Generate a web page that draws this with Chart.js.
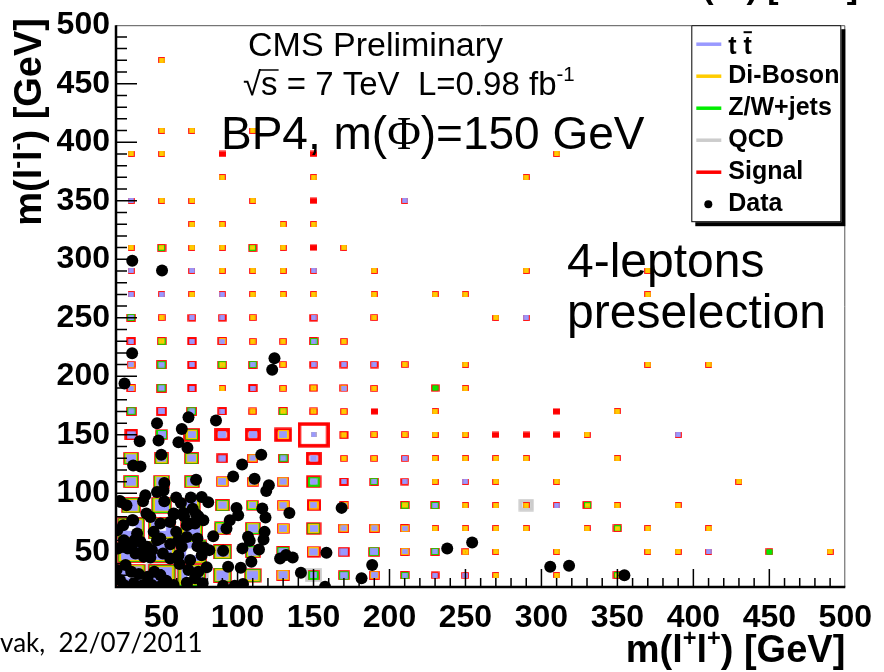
<!DOCTYPE html>
<html>
<head>
<meta charset="utf-8">
<script src="https://cdn.jsdelivr.net/npm/chart.js@4.4.1/dist/chart.umd.min.js"></script>
<style>
  html, body { margin: 0; padding: 0; background: #fff; }
  #wrap { position: relative; width: 884px; height: 672px; overflow: hidden; }
</style>
</head>
<body>
<div id="wrap"><canvas id="chart" width="884" height="672"></canvas></div>
<script>
// bins are 20 GeV wide on both axes; box size values are % of the bin
var binWidth = 20;
var xTicks = [50, 100, 150, 200, 250, 300, 350, 400, 450, 500];
var yTicks = [50, 100, 150, 200, 250, 300, 350, 400, 450, 500];

// [m(l+l+), m(l-l-), box size]
var ttbar = [
  [30,30,60],[50,30,58],[70,30,60],[90,30,30],[110,30,26],[130,30,20],[150,30,12],[170,30,15],[190,30,12],[210,30,8],[230,30,8],[250,30,8],
  [30,50,58],[50,50,58],[70,50,68],[90,50,30],[110,50,22],[130,50,20],[150,50,18],[170,50,18],[190,50,16],[210,50,8],[230,50,8],[410,50,8],
  [30,70,58],[50,70,58],[70,70,42],[90,70,24],[110,70,22],[130,70,16],[150,70,16],[170,70,10],[190,70,10],[210,70,8],
  [30,90,33],[50,90,36],[70,90,26],[90,90,18],[110,90,12],[130,90,14],[150,90,12],[170,90,8],[230,90,8],[310,90,8],
  [30,110,22],[50,110,24],[70,110,22],[90,110,16],[110,110,14],[130,110,14],[150,110,14],[170,110,8],[190,110,8],[210,110,8],[250,110,8],
  [30,130,22],[50,130,18],[70,130,18],[90,130,14],[110,130,10],[130,130,10],[150,130,14],[210,130,8],
  [30,150,18],[50,150,16],[70,150,16],[90,150,16],[110,150,16],[130,150,16],[150,150,8],[390,150,8],
  [30,170,10],[50,170,12],[70,170,10],[90,170,8],
  [30,190,8],[50,190,10],[70,190,8],[110,190,8],[170,190,8],
  [30,210,8],[50,210,10],[70,210,8],[110,210,8],[150,210,8],[170,210,8],[190,210,8],
  [30,230,8],[70,230,8],[90,230,8],[150,230,8],
  [30,250,8],[70,250,8],[90,250,8],[150,250,8],[290,250,8],
  [30,270,8],[50,270,8],[90,270,8],
  [30,290,8],[70,290,8],[150,290,8],
  [30,350,8],[210,350,8]
];
var diboson = [
  [30,30,70],[50,30,67],[70,30,70],[90,30,38],[110,30,34],[130,30,28],[190,30,18],[270,30,8],[310,30,8],[350,30,6],
  [30,50,67],[50,50,67],[70,50,77],[90,50,38],[110,50,28],[150,50,25],[210,50,15],[250,50,10],[270,50,8],[310,50,8],[370,50,8],[390,50,8],[490,50,8],
  [30,70,67],[50,70,67],[70,70,51],[90,70,32],[110,70,28],[130,70,25],[150,70,25],[170,70,18],[190,70,18],[210,70,15],[230,70,8],[250,70,8],[270,70,8],[290,70,8],[330,70,8],[350,70,6],[370,70,8],[410,70,8],
  [30,90,41],[50,90,44],[70,90,34],[90,90,25],[110,90,19],[130,90,25],[150,90,22],[170,90,15],[210,90,9],[250,90,8],[270,90,8],[290,90,8],[330,90,6],[350,90,8],[390,90,8],
  [30,110,28],[50,110,32],[70,110,28],[90,110,25],[110,110,22],[130,110,22],[230,110,8],[270,110,8],[310,110,8],[430,110,8],
  [30,130,28],[50,130,25],[70,130,25],[110,130,18],[170,130,8],[190,130,8],[230,130,8],[250,130,8],[270,130,8],[290,130,8],[350,130,8],
  [70,150,25],[130,150,25],[150,150,8],[170,150,10],[190,150,8],[210,150,8],[230,150,8],[250,150,8],[330,150,8],
  [110,170,10],[130,170,10],[150,170,10],[170,170,8],[230,170,8],[350,170,8],
  [30,190,12],[90,190,8],[130,190,8],[150,190,10],[170,190,10],[190,190,8],[250,190,8],
  [30,210,10],[90,210,10],[130,210,8],[210,210,8],[250,210,8],[370,210,8],[410,210,8],
  [50,230,10],[90,230,12],[110,230,8],[130,230,8],[170,230,8],
  [50,250,8],[110,250,8],[190,250,8],[270,250,8],
  [70,270,8],[110,270,8],[130,270,8],[150,270,8],[190,270,8],[230,270,8],[250,270,8],[370,270,8],
  [90,290,8],[110,290,8],[130,290,8],[190,290,8],[290,290,8],[370,290,8],
  [30,310,8],[50,310,6],[70,310,8],[90,310,8],[110,310,6],[130,310,8],[170,310,8],
  [70,330,8],[90,330,8],[130,330,8],[150,330,8],
  [50,350,8],[70,350,8],[110,350,8],
  [90,370,8],[150,370,8],[290,370,8],
  [30,390,8],[50,390,8],[310,390,8],
  [50,410,8],[70,410,8],[110,410,8],
  [50,470,8]
];
var zwjets = [
  [30,30,76],[50,30,73],[70,30,76],[90,30,44],[110,30,40],[150,30,24],[170,30,22],[210,30,15],[350,30,12],
  [30,50,73],[50,50,73],[70,50,83],[90,50,44],[110,50,34],[130,50,28],[190,50,22],[230,50,15],[450,50,10],
  [30,70,73],[50,70,73],[70,70,57],[90,70,38],[110,70,34],[150,70,30],[350,70,12],
  [30,90,47],[50,90,50],[70,90,40],[90,90,31],[110,90,25],[210,90,15],[230,90,15],[330,90,12],
  [30,110,34],[50,110,38],[70,110,34],[150,110,28],[190,110,15],
  [30,130,34],[50,130,31],[70,130,31],[130,130,18],
  [50,150,25],[70,150,30],
  [30,170,18],[70,170,18],[130,170,15],
  [50,190,18],[230,190,10],
  [50,210,18],[90,210,15],[110,210,15],
  [50,230,15],[150,230,15],
  [30,250,15],
  [50,310,12],[110,310,12]
];
var qcd = [
  [50,30,90],[70,30,100],[150,30,45],[290,90,40]
];
var signal = [
  [30,30,83],[50,30,80],[70,30,83],[90,30,51],[110,30,47],[130,30,34],[150,30,28],[170,30,28],[190,30,25],[210,30,21],[230,30,18],[250,30,15],[270,30,12],[310,30,12],[350,30,20],
  [30,50,80],[50,50,80],[70,50,90],[90,50,51],[110,50,41],[130,50,34],[150,50,35],[170,50,28],[190,50,28],[210,50,21],[230,50,21],[250,50,15],[270,50,12],[310,50,12],[370,50,12],[390,50,12],[410,50,12],[450,50,15],[490,50,12],
  [30,70,80],[50,70,80],[70,70,64],[90,70,44],[110,70,41],[130,70,31],[150,70,40],[170,70,25],[190,70,25],[210,70,21],[230,70,12],[250,70,12],[270,70,12],[290,70,12],[330,70,12],[350,70,20],[370,70,12],[410,70,12],
  [30,90,54],[50,90,57],[70,90,47],[90,90,38],[110,90,31],[130,90,31],[150,90,36],[170,90,21],[210,90,21],[230,90,21],[250,90,12],[270,90,12],[290,90,12],[310,90,12],[330,90,20],[350,90,12],[390,90,12],
  [30,110,41],[50,110,44],[70,110,41],[90,110,31],[110,110,28],[130,110,28],[150,110,40],[170,110,21],[190,110,21],[210,110,18],[230,110,12],[250,110,12],[270,110,12],[310,110,12],[430,110,12],
  [30,130,41],[50,130,38],[70,130,38],[90,130,28],[110,130,25],[130,130,25],[150,130,42],[170,130,15],[190,130,15],[210,130,15],[230,130,12],[250,130,12],[270,130,12],[290,130,12],[350,130,12],
  [30,150,34],[50,150,31],[70,150,45],[90,150,42],[110,150,42],[130,150,48],[150,150,95],[170,150,20],[190,150,15],[210,150,15],[230,150,12],[250,150,12],[270,150,13],[290,150,13],[310,150,13],[330,150,12],[390,150,12],
  [30,170,25],[50,170,25],[70,170,25],[90,170,21],[110,170,18],[130,170,21],[150,170,18],[170,170,15],[190,170,13],[230,170,12],[310,170,13],[350,170,12],
  [30,190,21],[50,190,25],[70,190,21],[90,190,12],[110,190,21],[130,190,15],[150,190,18],[170,190,18],[190,190,15],[230,190,18],[250,190,12],
  [30,210,18],[50,210,25],[70,210,21],[90,210,21],[110,210,21],[130,210,15],[150,210,18],[170,210,18],[190,210,18],[210,210,15],[250,210,12],[370,210,12],[410,210,12],
  [30,230,21],[50,230,21],[70,230,21],[90,230,21],[110,230,15],[130,230,15],[150,230,21],[170,230,15],
  [30,250,21],[50,250,15],[70,250,18],[90,250,18],[110,250,15],[150,250,18],[190,250,15],[270,250,12],[290,250,12],
  [30,270,12],[50,270,12],[70,270,12],[90,270,12],[110,270,12],[130,270,12],[150,270,12],[190,270,12],[230,270,12],[250,270,12],[370,270,12],
  [30,290,12],[70,290,12],[90,290,12],[110,290,12],[130,290,12],[150,290,12],[190,290,12],[290,290,12],[370,290,12],
  [30,310,12],[50,310,20],[70,310,12],[90,310,12],[110,310,20],[130,310,12],[150,310,13],[170,310,12],
  [70,330,12],[90,330,12],[130,330,12],[150,330,12],
  [30,350,12],[50,350,12],[70,350,12],[110,350,12],[150,350,13],[210,350,12],
  [90,370,12],[150,370,12],[290,370,12],
  [30,390,12],[50,390,12],[90,390,13],[150,390,13],[310,390,12],
  [50,410,12],[70,410,12],[110,410,12],
  [50,470,12]
];
// observed events [m(l+l+), m(l-l-)]
var data = [
  [30.6,219.8],[25.6,193.9],[124.3,215.5],[122.8,205.6],[47,159.9],[67.7,165],[85.8,162.2],[63.3,155],[35.6,144.6],[48,145.1],
  [61.1,143.7],[67,138.9],[49.8,133],[31.3,123.9],[36.1,123],[115.6,133],[103,124.7],[97.1,114.5],[111.2,112.5],[120.6,106.9],
  [118.9,102],[72.7,111.7],[51.8,108.8],[47,101.2],[39.3,98.3],[37.8,93.2],[22.6,93.5],[51.8,93.2],[59.6,96.4],[62.7,91.8],
  [69.2,96.4],[76.4,96.9],[80.7,92.4],[99.3,87.6],[100.4,81.3],[116.3,87],[134.1,83.3],[118.4,79.3],[168.5,87.6],[40,82.7],
  [30.6,77.1],[57.9,82.7],[64.8,80.5],[72.7,82.2],[94.9,77.1],[92.7,70],[84,63.4],[106.9,62.9],[108,59.5],[117.1,60.6],
  [114.1,52.1],[103.2,53],[109.1,41.6],[90.5,51],[128,44.4],[131.9,47.3],[136.3,45.3],[158.5,49.3],[188.6,38.8],[181.6,27.4],
  [157.6,20.3],[141.7,32.2],[93.8,37.3],[102.1,36.5],[90.5,21],[98.2,21],[103.6,22.6],[79.7,36.8],[77,23.2],[117.8,67.1],
  [51.3,102.5],[23,92.6],[26.9,89.8],[49.2,74.2],[55.7,75.6],[58.5,82.1],[68.8,74.2],[72,74.2],[66.6,72.8],[31.3,77],
  [33.9,65.7],[32.2,60],[44.8,67.1],[49.2,61.4],[55.7,56.6],[59.6,67.1],[61.1,60],[63.3,54.3],[66.6,62.8],[73.6,61.4],
  [73.6,54.9],[77.9,53.8],[81.4,51.5],[76.4,47.2],[21.3,52.9],[27.8,52.9],[32.8,48.6],[37.2,50.1],[38.3,45.8],[42.6,45.2],
  [50.9,48.6],[55.7,44.4],[61.1,47.2],[61.8,39.6],[68.8,43],[20.4,34.5],[26.3,38.7],[30,33.1],[35,31.1],[40.9,28.8],
  [45.2,33.1],[49.2,30.2],[53.1,25.4],[57.9,21.7],[50.2,21.7],[43.7,21.7],[37.8,21.7],[31.7,23.1],[25.2,21.7],[22.6,26],
  [66.6,23.7],[67.7,34.5],[74.2,33.1],[72,27.4],[47,60],[40.4,54.3],[43.7,51.5],[30.6,55.7],[36.1,58.6],[25.2,60],
  [20.8,68.5],[24.7,72.8],[74.2,80.4],[77.5,77],[42.6,79.9],[70.5,86.9],[64.4,83.3],
  [30.7,298.7],[50.3,290.4],[238,52.9],[254.4,58],[305.8,37.3],[318.2,38.1],[354.6,30]
];

var SANS = '"Liberation Sans", Arial, Helvetica, sans-serif';

// box drawn as a canvas point style, sized from the bin width in pixels
var boxCache = {};
function boxStyle(color, lw) {
  return function (ctx) {
    var raw = ctx.raw;
    if (!raw) return 'rect';
    var xs = ctx.chart.scales.x, ys = ctx.chart.scales.y;
    var bw = Math.abs(xs.getPixelForValue(binWidth) - xs.getPixelForValue(0));
    var bh = Math.abs(ys.getPixelForValue(binWidth) - ys.getPixelForValue(0));
    var w = raw[2] / 100 * bw + 3, h = raw[2] / 100 * bh + 3;
    var key = color + '|' + lw + '|' + w.toFixed(1) + '|' + h.toFixed(1);
    if (boxCache[key]) return boxCache[key];
    var cv = document.createElement('canvas');
    cv.width = Math.ceil(w); cv.height = Math.ceil(h);
    var g = cv.getContext('2d');
    var ox = (cv.width - w) / 2, oy = (cv.height - h) / 2;
    g.fillStyle = color; g.strokeStyle = color;
    if (w <= 2 * lw || h <= 2 * lw) {
      g.fillRect(ox, oy, w, h);
    } else {
      g.lineWidth = lw;
      g.strokeRect(ox + lw / 2, oy + lw / 2, w - lw, h - lw);
    }
    boxCache[key] = cv;
    return cv;
  };
}

function boxSet(label, arr, color, lw, order) {
  return {
    label: label, data: arr, order: order,
    backgroundColor: color, borderColor: color, borderWidth: 0,
    pointRadius: 5, pointHoverRadius: 5,
    pointStyle: boxStyle(color, lw)
  };
}

// text with superscripts: parts = [[text, isSup, family]]
function drawRich(c, parts, x, y, size, weight, align) {
  var widths = [], total = 0;
  parts.forEach(function (p) {
    var s = p[1] ? size * 0.62 : size;
    c.font = weight + ' ' + s + 'px ' + (p[2] || SANS);
    var w = c.measureText(p[0]).width;
    widths.push(w); total += w;
  });
  var sx = align === 'right' ? x - total : (align === 'center' ? x - total / 2 : x);
  var out = [];
  parts.forEach(function (p, i) {
    var s = p[1] ? size * 0.62 : size;
    c.font = weight + ' ' + s + 'px ' + (p[2] || SANS);
    c.fillText(p[0], sx, p[1] ? y - size * 0.42 : y);
    out.push([sx, widths[i]]);
    sx += widths[i];
  });
  return out;
}

var frameTicks = {
  id: 'frameTicks',
  afterDatasetsDraw: function (chart) {
    var c = chart.ctx, a = chart.chartArea, xs = chart.scales.x, ys = chart.scales.y;
    c.save();
    c.strokeStyle = '#000';
    c.lineWidth = 1.5;
    c.beginPath();
    for (var v = 30; v < 500; v += 10) {
      var major = v % 50 === 0;
      var px = xs.getPixelForValue(v);
      c.moveTo(px, a.bottom); c.lineTo(px, a.bottom - (major ? 18 : 9));
      var py = ys.getPixelForValue(v);
      c.moveTo(a.left, py); c.lineTo(a.left + (major ? 21 : 11), py);
    }
    c.stroke();
    c.lineWidth = 1; c.strokeStyle = '#555';
    c.beginPath();
    c.moveTo(a.left, a.top + 0.5); c.lineTo(a.right - 0.5, a.top + 0.5); c.lineTo(a.right - 0.5, a.bottom);
    c.stroke();
    c.lineWidth = 2.5; c.strokeStyle = '#000';
    c.beginPath();
    c.moveTo(a.left, a.top); c.lineTo(a.left, a.bottom); c.lineTo(a.right, a.bottom);
    c.stroke();
    c.restore();
  }
};

var annotations = {
  id: 'annotations',
  afterDraw: function (chart) {
    var c = chart.ctx, a = chart.chartArea;
    c.save();
    c.fillStyle = '#000';
    c.textBaseline = 'alphabetic';

    // titles inside the frame
    c.textAlign = 'left';
    c.font = '34px ' + SANS;
    c.fillText('CMS Preliminary', 248, 56);
    var seg = drawRich(c, [['\u221A', 0], ['s = 7 TeV  L=0.98 fb', 0], ['-1', 1]], 243, 95, 33, 'normal', 'left');
    c.font = '33px ' + SANS;
    var sw = c.measureText('s').width;
    c.lineWidth = 1.5; c.strokeStyle = '#000';
    c.beginPath(); c.moveTo(seg[1][0] - 1, 95 - 25); c.lineTo(seg[1][0] + sw + 1, 95 - 25); c.stroke();
    drawRich(c, [['BP4, m(', 0], ['\u03A6', 0, '"Liberation Serif", serif'], [')=150 GeV', 0]], 221, 149, 46, 'normal', 'left');
    c.font = '48px ' + SANS;
    c.fillText('4-leptons', 567, 277);
    c.fillText('preselection', 567, 328);

    // axis titles
    drawRich(c, [['m(l', 0], ['+', 1], ['l', 0], ['+', 1], [') [GeV]', 0]], a.right, 662, 38, 'bold', 'right');
    c.save();
    c.translate(41, 18);
    c.rotate(-Math.PI / 2);
    drawRich(c, [['m(l', 0], ['-', 1], ['l', 0], ['-', 1], [') [GeV]', 0]], 0, 0, 38, 'bold', 'right');
    c.restore();
    // cut-off slide text at the edges
    drawRich(c, [['m(l', 0], ['-', 1], ['l', 0], ['-', 1], [') [GeV]', 0]], 858, -2, 34, 'bold', 'right');
    c.font = '26px Lato, ' + SANS;
    c.textAlign = 'left';
    c.fillText('vak,  22/07/2011', 0, 652);

    // legend
    var lx = a.right - 154, ly = a.top, lw = 150, lh = 197;
    c.fillStyle = '#000'; c.fillRect(lx + 4, ly + 4, lw, lh);
    c.fillStyle = '#fff'; c.fillRect(lx, ly, lw, lh);
    c.strokeStyle = '#000'; c.lineWidth = 1; c.strokeRect(lx + 0.5, ly + 0.5, lw - 1, lh - 1);
    c.textBaseline = 'middle';
    c.font = 'bold 25px ' + SANS;
    chart.data.datasets.forEach(function (ds, i) {
      var yy = ly + 19 + i * 32;
      if (ds.order === 0) {
        c.fillStyle = '#000';
        c.beginPath(); c.arc(lx + 17, yy, 4, 0, Math.PI * 2); c.fill();
      } else {
        c.strokeStyle = ds.borderColor; c.lineWidth = 3.5;
        c.beginPath(); c.moveTo(lx + 5, yy); c.lineTo(lx + 30, yy); c.stroke();
      }
      c.fillStyle = '#000';
      var txt = ds.label;
      if (txt.indexOf('\u0304') >= 0) {
        txt = txt.replace('\u0304', '');
        c.fillText(txt, lx + 37, yy + 3);
        var w0 = c.measureText(txt.slice(0, -1)).width, w1 = c.measureText(txt.slice(-1)).width;
        c.lineWidth = 2; c.strokeStyle = '#000';
        c.beginPath(); c.moveTo(lx + 37 + w0, yy - 12); c.lineTo(lx + 37 + w0 + w1, yy - 12); c.stroke();
      } else {
        c.fillText(txt, lx + 37, yy);
      }
    });
    c.restore();
  }
};

var tickFont = { family: SANS, size: 32, weight: 'bold' };

new Chart(document.getElementById('chart'), {
  type: 'scatter',
  data: {
    datasets: [
      boxSet('t t\u0304', ttbar, '#9999ff', 6, 1),
      boxSet('Di-Boson', diboson, '#ffcc00', 2.5, 2),
      boxSet('Z/W+jets', zwjets, '#00ee00', 2.5, 3),
      boxSet('QCD', qcd, '#cccccc', 4, 5),
      boxSet('Signal', signal, '#ff0000', 3.5, 4),
      {
        label: 'Data', data: data, order: 0,
        pointStyle: 'circle', pointRadius: 6, pointHoverRadius: 6,
        backgroundColor: '#000', borderColor: '#000', borderWidth: 0
      }
    ]
  },
  options: {
    responsive: false,
    animation: false,
    events: [],
    layout: { padding: { top: 23, right: 32, left: 0, bottom: 0 } },
    plugins: { legend: { display: false }, tooltip: { enabled: false } },
    scales: {
      x: {
        type: 'linear', min: 20, max: 500,
        afterBuildTicks: function (s) { s.ticks = xTicks.map(function (v) { return { value: v }; }); },
        afterFit: function (s) { s.height = 85; },
        grid: { display: false, drawTicks: false }, border: { display: false },
        ticks: { font: tickFont, color: '#000', padding: 12, maxRotation: 0, autoSkip: false }
      },
      y: {
        type: 'linear', min: 20, max: 500,
        afterBuildTicks: function (s) { s.ticks = yTicks.map(function (v) { return { value: v }; }); },
        afterFit: function (s) { s.width = 116; },
        grid: { display: false, drawTicks: false }, border: { display: false },
        ticks: { font: tickFont, color: '#000', padding: 6, autoSkip: false }
      }
    }
  },
  plugins: [frameTicks, annotations]
});
</script>
</body>
</html>
